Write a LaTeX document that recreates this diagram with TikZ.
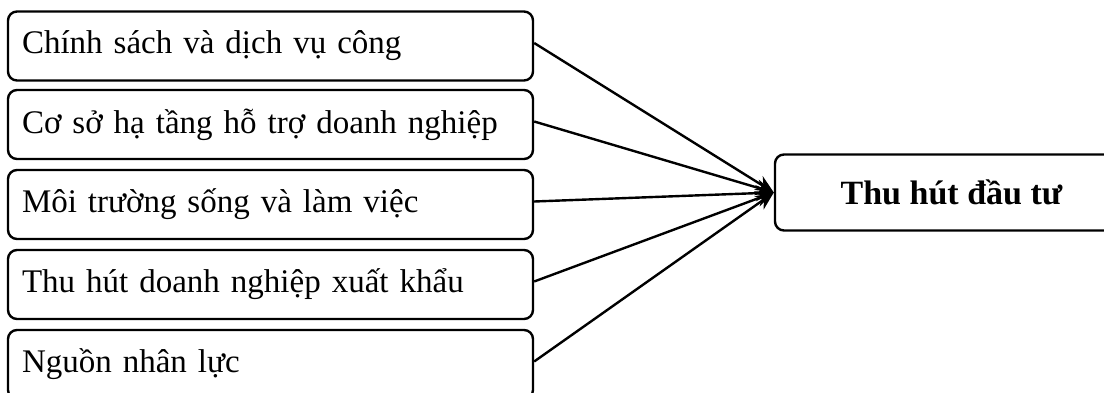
\documentclass[tikz,border=0pt]{standalone}
\usepackage{fontspec}
\setmainfont{Liberation Serif}
\usetikzlibrary{arrows.meta}

\begin{document}
\begin{tikzpicture}[x=1pt, y=-1pt, line width=2.4pt,
  facteur/.style={draw, rounded corners=9pt, minimum width=525pt,
    minimum height=69pt, text width=497pt, inner xsep=14pt, align=left,
    font=\fontsize{33}{39}\selectfont},
  resultat/.style={draw, rounded corners=9pt, minimum width=353pt,
    minimum height=76pt, font=\bfseries\fontsize{34}{40}\selectfont},
  fleche/.style={-{Stealth[length=18pt, width=16pt]}}]

\useasboundingbox (0,0) rectangle (1104,393);

% Facteurs
\node[facteur] (chinhsach) at (270.5,46) {Chính sách và dịch vụ công};
\node[facteur] (hatang) at (270.5,124.5) {Cơ sở hạ tầng hỗ trợ doanh nghiệp};
\node[facteur] (moitruong) at (270.5,204.5) {Môi trường sống và làm việc};
\node[facteur] (xuatkhau) at (270.5,284.5) {Thu hút doanh nghiệp xuất khẩu};
\node[facteur] (nhanluc) at (270.5,364.5) {Nguồn nhân lực};

% Thu hút đầu tư
\node[resultat] (dautu) at (951.5,192.5) {Thu hút đầu tư};

% Flèches
\foreach \f in {chinhsach, hatang, moitruong, xuatkhau, nhanluc}
  \draw[fleche] ([yshift=3pt]\f.east) -- (dautu.west);

\end{tikzpicture}
\end{document}
